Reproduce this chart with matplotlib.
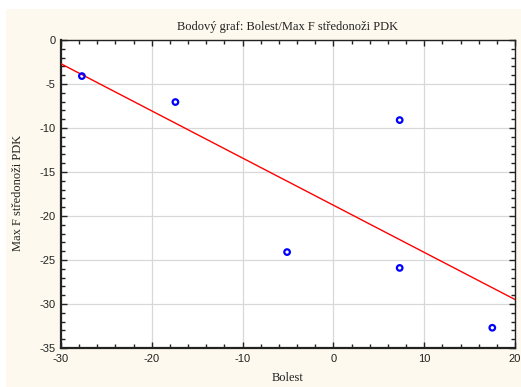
import numpy as np
import matplotlib.pyplot as plt
from matplotlib.ticker import MultipleLocator
from matplotlib.patches import Rectangle

# --- DATA ---
bolest = [-27.7, -17.4, -5.1, 7.3, 7.3, 17.5]
max_f = [-4.1, -7.05, -24.1, -9.1, -25.9, -32.7]
x_lim = [-30, 20]
y_lim = [-35, 0]

TITULEK = 'Bodový graf: Bolest/Max F středonoži PDK'
POPIS_X = 'Bolest'
POPIS_Y = 'Max F středonoži PDK'

plt.rcParams['axes.unicode_minus'] = False

fig = plt.figure(figsize=(5.21, 3.87), dpi=100, facecolor='white')
# krémový panel za grafem
fig.patches.append(Rectangle((6 / 521, 0), 1 - 6 / 521, 1 - 9 / 387,
                             transform=fig.transFigure, facecolor='#fdf9ee',
                             edgecolor='none', zorder=-10))

ax = fig.add_axes([61 / 521, 1 - 348 / 387, 454 / 521, 308 / 387])
ax.set_facecolor('white')

# regresní přímka
k, q = np.polyfit(bolest, max_f, 1)
xs = np.array(x_lim, dtype=float)
ax.plot(xs, k * xs + q, color='#ff0000', lw=1.0, zorder=3)

ax.scatter(bolest, max_f, s=16, facecolors='none', edgecolors='#0000ff',
           linewidths=1.6, zorder=4)

ax.set_xlim(x_lim)
ax.set_ylim(y_lim)
ax.xaxis.set_major_locator(MultipleLocator(10))
ax.xaxis.set_minor_locator(MultipleLocator(2))
ax.yaxis.set_major_locator(MultipleLocator(5))
ax.yaxis.set_minor_locator(MultipleLocator(1))
ax.grid(True, which='major', color='#d8d8d8', lw=0.9, zorder=0)
ax.set_axisbelow(True)

ax.tick_params(which='both', direction='in', top=True, right=True,
               color='#222222', width=1.0)
ax.tick_params(which='major', length=4, labelsize=8, pad=4, labelcolor='#222222')
ax.tick_params(which='minor', length=3)
for lab in ax.get_xticklabels() + ax.get_yticklabels():
    lab.set_family('Liberation Sans')

for side in ['left', 'bottom']:
    ax.spines[side].set_linewidth(1.6)
for side in ['top', 'right']:
    ax.spines[side].set_linewidth(1.0)
for sp in ax.spines.values():
    sp.set_color('#222222')

fig.text(288 / 521, 1 - 27 / 387, TITULEK, ha='center', va='center',
         family='Liberation Serif', fontsize=9, color='#222222')
fig.text(288 / 521, 1 - 378 / 387, POPIS_X, ha='center', va='center',
         family='Liberation Serif', fontsize=9, color='#222222')
fig.text(18 / 521, 1 - 193 / 387, POPIS_Y, ha='center', va='center',
         rotation=90, family='Liberation Serif', fontsize=9, color='#222222')

fig.savefig('out.png', dpi=100, facecolor=fig.get_facecolor())
